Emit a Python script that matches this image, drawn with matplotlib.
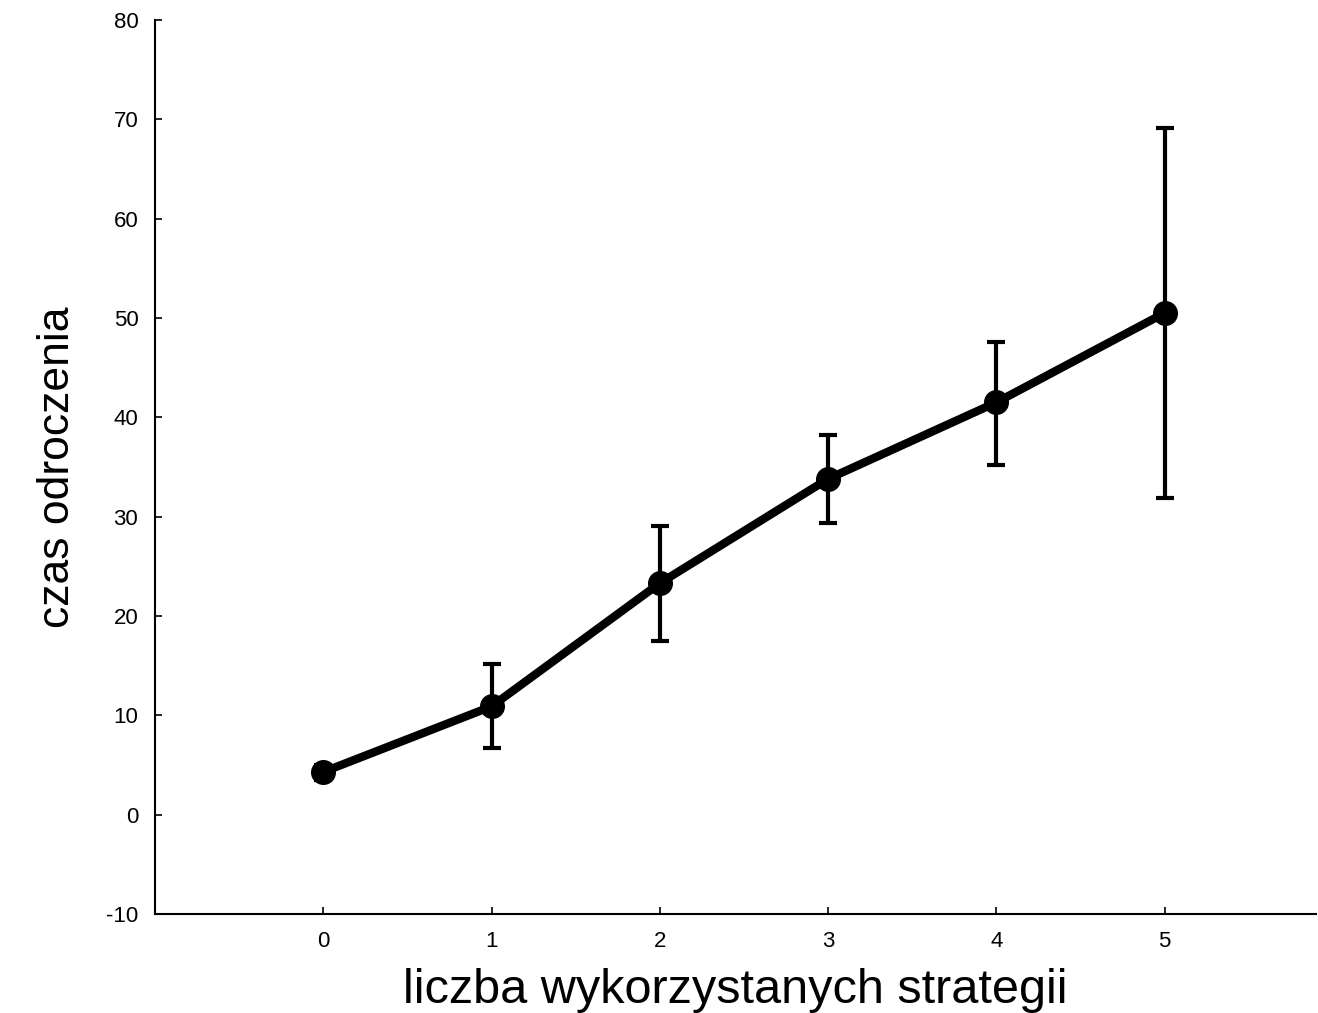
import matplotlib.pyplot as plt

strategie = [0, 1, 2, 3, 4, 5]
czas = [4.3, 10.9, 23.3, 33.8, 41.5, 50.5]
blad_dol = [0.8, 4.2, 5.8, 4.4, 6.3, 18.6]
blad_gora = [0.7, 4.3, 5.8, 4.4, 6.1, 18.6]

y_ticks = [-10, 0, 10, 20, 30, 40, 50, 60, 70, 80]

plt.rcParams["font.family"] = ["Liberation Sans", "DejaVu Sans"]
plt.rcParams["axes.unicode_minus"] = False

fig = plt.figure(figsize=(13.18, 10.13), dpi=100)
ax = fig.add_axes([0.1176, 0.0977, 0.8809, 0.8826])

ax.errorbar(
    strategie,
    czas,
    yerr=[blad_dol, blad_gora],
    color="black",
    linewidth=6,
    marker="o",
    markersize=17,
    ecolor="black",
    elinewidth=3,
    capsize=6.5,
    capthick=3,
)

ax.set_xlim(-1, 5.9)
ax.set_ylim(-10, 80)
ax.set_xticks(strategie)
ax.set_yticks(y_ticks)

for side in ["top", "right"]:
    ax.spines[side].set_visible(False)
for side in ["left", "bottom"]:
    ax.spines[side].set_linewidth(1.5)

ax.tick_params(direction="in", length=5, width=1.2, labelsize=16, pad=12)

ax.set_xlabel("liczba wykorzystanych strategii", fontsize=35, labelpad=12)
ax.set_ylabel("czas odroczenia", fontsize=32, labelpad=20)

fig.savefig("out.png", dpi=100)
plt.close(fig)
